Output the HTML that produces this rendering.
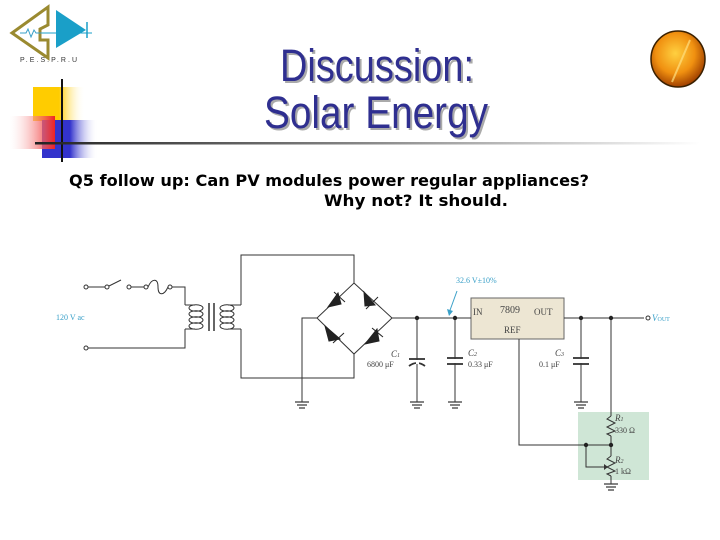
<!DOCTYPE html>
<html><head><style>
body{margin:0;background:#fff;width:720px;height:540px;overflow:hidden}
svg{display:block}
</style></head><body>
<svg width="720" height="540" viewBox="0 0 720 540" xmlns="http://www.w3.org/2000/svg" font-family="Liberation Serif, serif">
<defs>
<linearGradient id="yl" x1="0" x2="1"><stop offset="0" stop-color="#ffcc00"/><stop offset="0.5" stop-color="#ffcc00"/><stop offset="1" stop-color="#fff" stop-opacity="0"/></linearGradient>
<linearGradient id="bl" x1="0" x2="1"><stop offset="0" stop-color="#3333cc"/><stop offset="0.5" stop-color="#3333cc"/><stop offset="1" stop-color="#fff" stop-opacity="0"/></linearGradient>
<linearGradient id="rd" x1="1" x2="0"><stop offset="0" stop-color="#ee2222"/><stop offset="1" stop-color="#fff" stop-opacity="0.2"/></linearGradient>
<linearGradient id="ln" x1="0" x2="1"><stop offset="0" stop-color="#222"/><stop offset="0.5" stop-color="#888"/><stop offset="1" stop-color="#fff"/></linearGradient>
<radialGradient id="ball" cx="0.45" cy="0.4" r="0.6"><stop offset="0" stop-color="#ffd040"/><stop offset="0.6" stop-color="#f09010"/><stop offset="1" stop-color="#a04000"/></radialGradient>
</defs>
<!-- logo -->
<polygon points="12,33 48,7 48,25 40,29 40,40 48,40 48,58" fill="none" stroke="#9a8a30" stroke-width="3"/>
<polyline points="20,33 26,33 28,29 31,37 34,30 36,33 42,33" fill="none" stroke="#3aa0c8" stroke-width="1"/>
<polygon points="56,10 56,48 86,30" fill="#1a9fc8"/>
<line x1="42" y1="33" x2="92" y2="33" stroke="#1a9fc8" stroke-width="1"/>
<line x1="87" y1="22" x2="87" y2="38" stroke="#1a9fc8" stroke-width="1.5"/>
<text x="20" y="62" font-family="Liberation Sans, sans-serif" font-size="7" fill="#333" textLength="57">P.E.S.P.R.U</text>
<!-- decor -->
<rect x="33" y="87" width="52" height="34" fill="url(#yl)"/>
<rect x="42" y="120" width="56" height="38" fill="url(#bl)"/>
<rect x="10" y="116" width="45" height="33" fill="url(#rd)"/>
<line x1="62" y1="79" x2="62" y2="162" stroke="#111" stroke-width="2"/>
<rect x="35" y="142" width="665" height="2.5" fill="url(#ln)"/>
<ellipse cx="678" cy="59" rx="27" ry="28" fill="url(#ball)" stroke="#3a2000" stroke-width="1.5"/>
<line x1="690" y1="40" x2="672" y2="82" stroke="#ffe080" stroke-width="2" opacity="0.7"/>
<!-- title -->
<g font-family="Liberation Sans, sans-serif" font-size="45" fill="#2f2f90">
<text x="280" y="81" textLength="194" lengthAdjust="spacingAndGlyphs" fill="#aaa" transform="translate(2,2)">Discussion:</text>
<text x="280" y="81" textLength="194" lengthAdjust="spacingAndGlyphs">Discussion:</text>
<text x="264" y="128" textLength="224" lengthAdjust="spacingAndGlyphs" fill="#aaa" transform="translate(2,2)">Solar Energy</text>
<text x="264" y="128" textLength="224" lengthAdjust="spacingAndGlyphs">Solar Energy</text>
</g>
<g font-family="DejaVu Sans, sans-serif" font-weight="bold" font-size="16" fill="#000">
<text x="69" y="186" textLength="520" lengthAdjust="spacingAndGlyphs">Q5 follow up: Can PV modules power regular appliances?</text>
<text x="324" y="206" textLength="184" lengthAdjust="spacingAndGlyphs">Why not?  It should.</text>
</g>
<!-- circuit -->
<rect x="578" y="412" width="71" height="68" fill="#cfe6d6"/>
<rect x="471" y="298" width="93" height="41" fill="#ede6d3" stroke="#666" stroke-width="1"/>
<g stroke="#333" stroke-width="1" fill="none">
<circle cx="86" cy="287" r="2"/><circle cx="107" cy="287" r="2"/><circle cx="129" cy="287" r="2"/><circle cx="146" cy="287" r="2"/><circle cx="170" cy="287" r="2"/><circle cx="86" cy="348" r="2"/><circle cx="648" cy="318" r="2"/>
<line x1="88" y1="287" x2="105" y2="287"/>
<line x1="109" y1="286" x2="121" y2="280"/>
<line x1="131" y1="287" x2="144" y2="287"/>
<path d="M148,287 C152,278 158,278 158,287 C158,296 164,296 168,287"/>
<polyline points="172,287 185,287 185,305"/>
<polyline points="88,348 185,348 185,329"/>
<line x1="185" y1="305" x2="195" y2="305"/><line x1="185" y1="329" x2="195" y2="329"/>
<ellipse cx="196" cy="308" rx="7" ry="3.3"/><ellipse cx="196" cy="314" rx="7" ry="3.3"/><ellipse cx="196" cy="320" rx="7" ry="3.3"/><ellipse cx="196" cy="326" rx="7" ry="3.3"/>
<line x1="241" y1="305" x2="228" y2="305"/><line x1="241" y1="329" x2="228" y2="329"/>
<ellipse cx="227" cy="308" rx="7" ry="3.3"/><ellipse cx="227" cy="314" rx="7" ry="3.3"/><ellipse cx="227" cy="320" rx="7" ry="3.3"/><ellipse cx="227" cy="326" rx="7" ry="3.3"/>
<line x1="209" y1="303" x2="209" y2="331" stroke-width="1.5"/><line x1="214" y1="303" x2="214" y2="331" stroke-width="1.5"/>
<polyline points="241,305 241,255 354,255 354,283"/>
<polyline points="241,329 241,378 354,378 354,354"/>
<polygon points="354,283 392,318 354,354 317,318"/>
<polyline points="317,318 302,318 302,402"/>
<line x1="392" y1="318" x2="471" y2="318"/>
<line x1="564" y1="318" x2="644" y2="318"/>
<line x1="417" y1="318" x2="417" y2="402"/>
<line x1="455" y1="318" x2="455" y2="402"/>
<line x1="581" y1="318" x2="581" y2="402"/>
<line x1="611" y1="318" x2="611" y2="416"/>
<polyline points="519,339 519,445 611,445"/>
<line x1="611" y1="436" x2="611" y2="456"/>
<line x1="611" y1="476" x2="611" y2="484"/>
<polyline points="586,445 586,467 604,467"/>
<polyline points="611,416 607,419 615,423 607,427 615,431 607,434 611,436"/>
<polyline points="611,456 607,459 615,463 607,467 615,471 607,474 611,476"/>
<line x1="457" y1="291" x2="449" y2="313" stroke="#3aa0c8"/>
</g>
<polygon points="449,316 447,309 453,311" fill="#3aa0c8"/>
<polygon points="604,464 604,470 608,467" fill="#333"/>
<!-- caps -->
<g stroke="#333" stroke-width="1.8" fill="none">
<line x1="409" y1="359" x2="425" y2="359"/><path d="M409,366 Q417,360 425,366"/>
<line x1="447" y1="358" x2="463" y2="358"/><line x1="447" y1="364" x2="463" y2="364"/>
<line x1="573" y1="358" x2="589" y2="358"/><line x1="573" y1="364" x2="589" y2="364"/>
</g>
<g fill="#fff"><rect x="416" y="360" width="3" height="4"/><rect x="454" y="359" width="3" height="4"/><rect x="580" y="359" width="3" height="4"/></g>
<!-- diodes -->
<g fill="#222" stroke="#222" stroke-width="1">
<polygon points="328,307 338,293 341,304"/><line x1="334" y1="292" x2="345" y2="302"/>
<polygon points="364,292 375,305 365,306"/><line x1="366" y1="309" x2="378" y2="297"/>
<polygon points="325,326 340,339 329,341"/><line x1="333" y1="343" x2="344" y2="333"/>
<polygon points="365,344 377,329 379,341"/><line x1="372" y1="328" x2="383" y2="337"/>
</g>
<!-- grounds -->
<g stroke="#333" stroke-width="1.2">
<line x1="295" y1="402" x2="309" y2="402"/><line x1="297" y1="405" x2="307" y2="405"/><line x1="299" y1="408" x2="305" y2="408"/>
<line x1="410" y1="402" x2="424" y2="402"/><line x1="412" y1="405" x2="422" y2="405"/><line x1="414" y1="408" x2="420" y2="408"/>
<line x1="448" y1="402" x2="462" y2="402"/><line x1="450" y1="405" x2="460" y2="405"/><line x1="452" y1="408" x2="458" y2="408"/>
<line x1="574" y1="402" x2="588" y2="402"/><line x1="576" y1="405" x2="586" y2="405"/><line x1="578" y1="408" x2="584" y2="408"/>
<line x1="604" y1="484" x2="618" y2="484"/><line x1="606" y1="487" x2="616" y2="487"/><line x1="608" y1="490" x2="614" y2="490"/>
</g>
<g fill="#222"><circle cx="417" cy="318" r="2.2"/><circle cx="455" cy="318" r="2.2"/><circle cx="581" cy="318" r="2.2"/><circle cx="611" cy="318" r="2.2"/><circle cx="586" cy="445" r="2.2"/><circle cx="611" cy="445" r="2.2"/></g>
<g font-size="9" fill="#444">
<text x="473" y="315">IN</text><text x="500" y="313" font-size="10">7809</text><text x="534" y="315">OUT</text><text x="504" y="333">REF</text>
<text x="391" y="357" font-style="italic">C<tspan font-size="6">1</tspan></text><text x="367" y="367" font-size="8">6800 μF</text>
<text x="468" y="356" font-style="italic">C<tspan font-size="6">2</tspan></text><text x="468" y="367" font-size="8">0.33 μF</text>
<text x="555" y="356" font-style="italic">C<tspan font-size="6">3</tspan></text><text x="539" y="367" font-size="8">0.1 μF</text>
<text x="615" y="421" font-style="italic">R<tspan font-size="6">1</tspan></text><text x="615" y="433" font-size="8">330 Ω</text>
<text x="615" y="463" font-style="italic">R<tspan font-size="6">2</tspan></text><text x="615" y="474" font-size="8">1 kΩ</text>
</g>
<g fill="#3aa0c8" font-size="8">
<text x="56" y="320">120 V ac</text>
<text x="456" y="283">32.6 V±10%</text>
<text x="652" y="321" font-style="italic" font-size="9">V<tspan font-size="6" font-style="normal">OUT</tspan></text>
</g>
</svg>
</body></html>
